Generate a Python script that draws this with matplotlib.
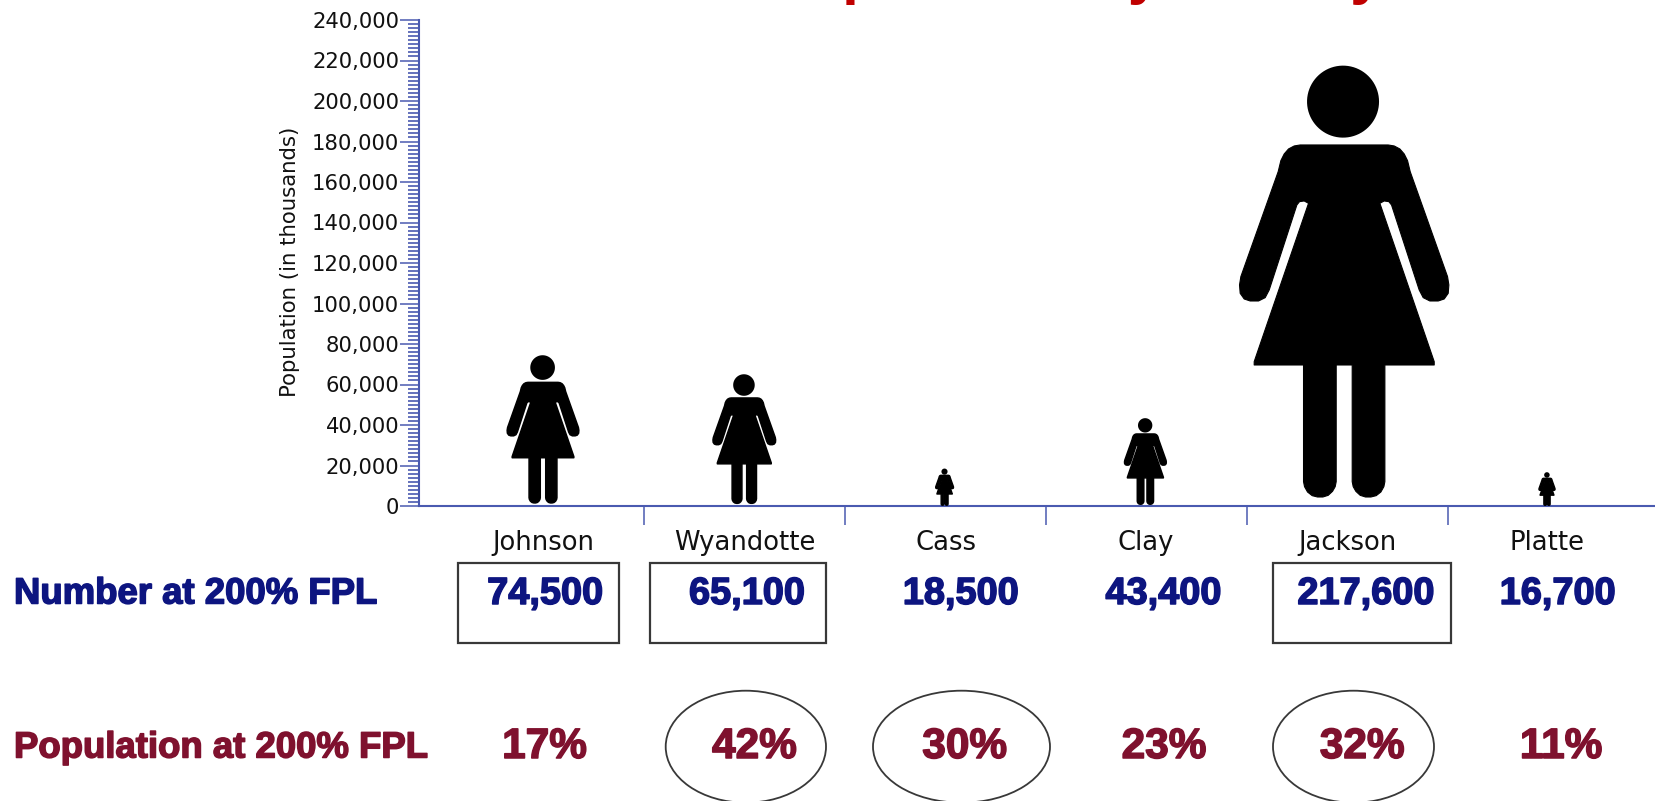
import numpy as np
import matplotlib
matplotlib.use("Agg")
import matplotlib.pyplot as plt
import matplotlib.patheffects as pe
from matplotlib.patches import PathPatch, Rectangle, Ellipse
from matplotlib.path import Path
from matplotlib.transforms import Affine2D

# ---- data ----
counties = ["Johnson", "Wyandotte", "Cass", "Clay", "Jackson", "Platte"]
number_fpl = [74500, 65100, 18500, 43400, 217600, 16700]
pct_fpl = [17, 42, 30, 23, 32, 11]
boxed = ["Johnson", "Wyandotte", "Jackson"]
circled = ["Wyandotte", "Cass", "Jackson"]
y_ticks = list(range(0, 240001, 20000))
title = "Population by County"
y_label = "Population (in thousands)"
row1_label = "Number at 200% FPL"
row2_label = "Population at 200% FPL"

# ---- layout ----
W, H = 1655, 801
x0, dx = 543.0, 200.8
AX_L, AX_R, AX_T, AX_B = 419, 1655, 20, 506
AXIS = "#4a5ab0"
NAVY = "#0d1580"
MAROON = "#7f112e"
EDGE = "#383838"
fig_off = [0, 0.5, 0, 0, -2, 0]
fig_lw = [1.1, 1.1, 1.0, 1.1, 0.8, 1.0]
num_off = [2, 3, 16, 18, 19.5, 10.5]
pct_off = [1.5, 10.7, 20, 18.6, 16, 14]
cat_off = [0.6, 1, 1.5, 0, 1, 0]
box_x = {"Johnson": (458, 618.5), "Wyandotte": (649.5, 826), "Jackson": (1273, 1450.7)}
ell_x = {"Wyandotte": (665.7, 826), "Cass": (873, 1050), "Jackson": (1273, 1434)}

fig = plt.figure(figsize=(W / 100, H / 100), dpi=100, facecolor="white")
ax = fig.add_axes([AX_L / W, 1 - AX_B / H, (AX_R - AX_L) / W, (AX_B - AX_T) / H])
ax.set_ylim(0, 240000)
ax.set_xlim((AX_L - x0) / dx, (AX_R - x0) / dx)
ax.spines[["top", "right"]].set_visible(False)
for s in ("left", "bottom"):
    ax.spines[s].set_color(AXIS)
    ax.spines[s].set_linewidth(1.5)

ax.set_yticks(y_ticks)
ax.set_yticklabels([f"{v:,}" for v in y_ticks], fontsize=15.2, color="#111111", family="DejaVu Sans")
ax.set_yticks(np.arange(0, 240001, 2000), minor=True)
ax.tick_params(axis="y", which="major", length=13.7, width=1.1, color=AXIS, pad=0.5)
ax.tick_params(axis="y", which="minor", length=8.2, width=1.2, color=AXIS)
ax.set_xticks(np.arange(len(counties) - 1) + 0.505)
ax.set_xticklabels([])
ax.tick_params(axis="x", which="major", length=14, width=1.1, color=AXIS)

# ---- pictogram: outline in units of the figure's value-height, y up ----
c, yb = 432.0, 1518.0
sc = 3 * 440.6
half = [(432, 435), (300, 435), (282, 438), (265, 447), (252, 462), (242, 482), (234, 515), (122, 830),
        (118, 855), (120, 880), (132, 897), (150, 903), (175, 903), (195, 893), (207, 870),
        (290, 615), (298, 605), (312, 603), (325, 610),
        (162, 1085), (162, 1095), (310, 1095), (310, 1445), (313, 1460), (322, 1476), (336, 1487), (352, 1491),
        (368, 1491), (384, 1486), (397, 1474), (405, 1460), (408, 1445), (408, 1095), (432, 1095)]
left = [((x - c) / sc, (yb - y) / sc) for x, y in half]
right = [(-x, y) for x, y in reversed(left)][1:-1]
body = left + right
head_cx, head_cy, head_r = (428.5 - c) / sc, (yb - 305) / sc, 108 / sc

x_per_y = ((ax.get_xlim()[1] - ax.get_xlim()[0]) / (AX_R - AX_L)) / (240000 / (AX_B - AX_T))
theta = np.linspace(0, 2 * np.pi, 80)
for i, v in enumerate(number_fpl):
    sx = v * x_per_y
    xc = i + fig_off[i] / dx
    bverts = [(xc + u * sx, w * v) for u, w in body]
    bverts.append(bverts[0])
    codes = [Path.MOVETO] + [Path.LINETO] * (len(bverts) - 2) + [Path.CLOSEPOLY]
    ax.add_patch(PathPatch(Path(bverts, codes), fc="black", ec="black", lw=fig_lw[i], joinstyle="round", zorder=3))
    hverts = np.column_stack([xc + (head_cx + head_r * np.cos(theta)) * sx,
                              (head_cy + head_r * np.sin(theta)) * v])
    ax.fill(hverts[:, 0], hverts[:, 1], color="black", lw=0, zorder=3)

# ---- everything below / outside the axes, in image pixels (y down) ----
px = Affine2D().scale(1, -1).translate(0, H)


def bold(x, y, s, color, size, ha="center"):
    t = fig.text(x, y, s, transform=px, color=color, fontsize=size, fontweight="bold",
                 family="Liberation Sans", ha=ha, va="center")
    t.set_path_effects([pe.withStroke(linewidth=1.1, foreground=color)])
    return t


fig.text(290, 262, y_label, transform=px, rotation=90, ha="center", va="center",
         fontsize=15.3, color="#111111", family="DejaVu Sans")
bold(14, 594, row1_label, NAVY, 26.3, ha="left")
bold(14, 748, row2_label, MAROON, 26.3, ha="left")

for i, name in enumerate(counties):
    cx = x0 + dx * i
    fig.text(cx + cat_off[i], 543, name, transform=px, ha="center", va="center",
             fontsize=18.6, color="#111111", family="DejaVu Sans")
    bold(cx + num_off[i], 594, f"{number_fpl[i]:,}", NAVY, 27.3)
    bold(cx + pct_off[i], 747, f"{pct_fpl[i]}%", MAROON, 30.5)
    if name in boxed:
        a, b = box_x[name]
        fig.add_artist(Rectangle((a, 562.7), b - a, 80.3, transform=px, fc="none", ec=EDGE, lw=1.6))
    if name in circled:
        a, b = ell_x[name]
        fig.add_artist(Ellipse(((a + b) / 2, 746.7), b - a, 112, transform=px, fc="none", ec=EDGE, lw=1.3))

# title, cut off by the top edge of the image as in the reference
fig.text(766, -7, title, transform=px, color="#c00000", fontsize=43, fontweight="bold",
         family="Liberation Sans", ha="left", va="baseline", clip_on=False)

fig.savefig("out.png", dpi=100)
